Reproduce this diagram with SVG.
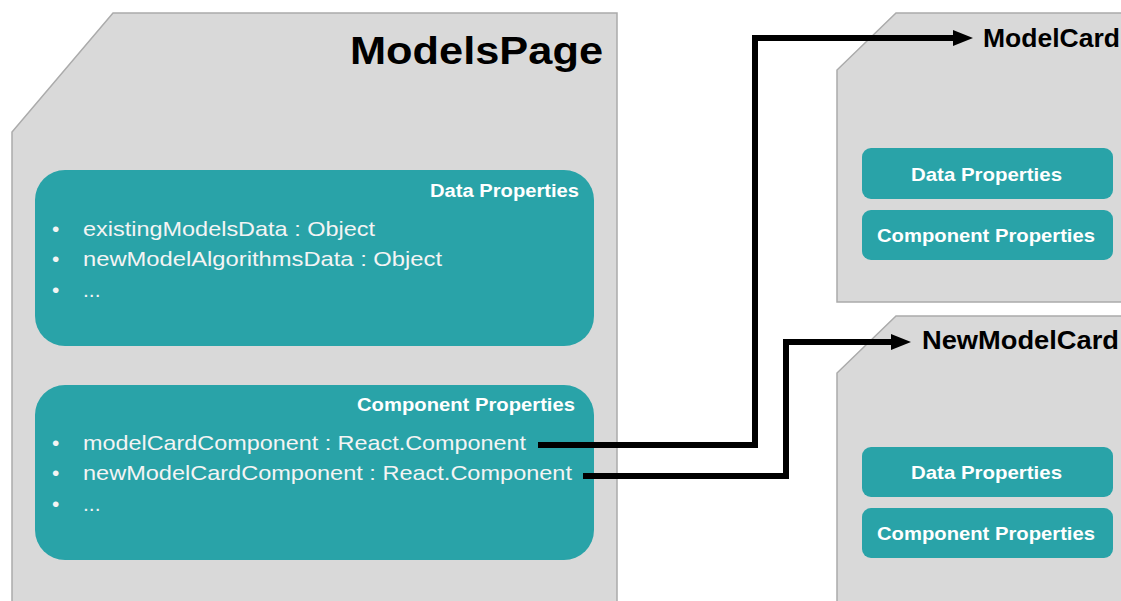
<svg xmlns="http://www.w3.org/2000/svg" width="1121" height="601" viewBox="0 0 1121 601">
<style>
.panel{fill:#d9d9d9;stroke:#ababab;stroke-width:1.5}
.box{fill:#29a3a8}
.title{font-family:"Liberation Sans",Arial,sans-serif;font-weight:bold;fill:#000}
.hdr{font-family:"Liberation Sans",Arial,sans-serif;font-weight:bold;fill:#fff;font-size:18px}
.btn{font-family:"Liberation Sans",Arial,sans-serif;font-weight:bold;fill:#fff;font-size:19px}
.item{font-family:"Liberation Sans",Arial,sans-serif;fill:#f4f4f4;font-size:21px}
.conn{fill:none;stroke:#000;stroke-width:6;stroke-linejoin:miter}
</style>
<defs>
<marker id="arrow" markerUnits="userSpaceOnUse" markerWidth="21" markerHeight="18" refX="0" refY="9" orient="auto">
<path d="M0,1 L20,9 L0,17 z" fill="#000"/>
</marker>
</defs>
<rect width="1121" height="601" fill="#fff"/>

<g id="modelsPage">
<polygon class="panel" points="113,13 617,13 617,612 12,612 12,132"/>
<text class="title" x="350" y="64" font-size="38" textLength="253" lengthAdjust="spacingAndGlyphs">ModelsPage</text>
</g>

<g id="dataProperties">
<rect class="box" x="35" y="170" width="559" height="176" rx="30"/>
<text class="hdr" x="430" y="197" textLength="149" lengthAdjust="spacingAndGlyphs">Data Properties</text>
<text class="item" x="52" y="236">•</text>
<text class="item" x="83" y="236" textLength="292" lengthAdjust="spacingAndGlyphs">existingModelsData : Object</text>
<text class="item" x="52" y="266">•</text>
<text class="item" x="83" y="266" textLength="359" lengthAdjust="spacingAndGlyphs">newModelAlgorithmsData : Object</text>
<text class="item" x="52" y="297">•</text>
<text class="item" x="83" y="297">...</text>
</g>

<g id="componentProperties">
<rect class="box" x="35" y="385" width="559" height="175" rx="30"/>
<text class="hdr" x="357" y="411" textLength="218" lengthAdjust="spacingAndGlyphs">Component Properties</text>
<text class="item" x="52" y="450">•</text>
<text class="item" x="83" y="450" textLength="443" lengthAdjust="spacingAndGlyphs">modelCardComponent : React.Component</text>
<text class="item" x="52" y="480">•</text>
<text class="item" x="83" y="480" textLength="489" lengthAdjust="spacingAndGlyphs">newModelCardComponent : React.Component</text>
<text class="item" x="52" y="511">•</text>
<text class="item" x="83" y="511">...</text>
</g>

<g id="modelCard">
<polygon class="panel" points="896,13 1130,13 1130,302 837,302 837,70"/>
<text class="title" x="983" y="47" font-size="26" textLength="137" lengthAdjust="spacingAndGlyphs">ModelCard</text>
<rect class="box" x="862" y="148" width="251" height="51" rx="9"/>
<text class="btn" x="911" y="181" textLength="151" lengthAdjust="spacingAndGlyphs">Data Properties</text>
<rect class="box" x="862" y="210" width="251" height="50" rx="9"/>
<text class="btn" x="877" y="242" textLength="218" lengthAdjust="spacingAndGlyphs">Component Properties</text>
</g>

<g id="newModelCard">
<polygon class="panel" points="896,316 1130,316 1130,612 837,612 837,373"/>
<text class="title" x="922" y="349" font-size="26" textLength="197" lengthAdjust="spacingAndGlyphs">NewModelCard</text>
<rect class="box" x="862" y="447" width="251" height="50" rx="9"/>
<text class="btn" x="911" y="479" textLength="151" lengthAdjust="spacingAndGlyphs">Data Properties</text>
<rect class="box" x="862" y="508" width="251" height="50" rx="9"/>
<text class="btn" x="877" y="540" textLength="218" lengthAdjust="spacingAndGlyphs">Component Properties</text>
</g>

<g id="connectors">
<path class="conn" d="M538,445 H755 V38 H953" marker-end="url(#arrow)"/>
<path class="conn" d="M583,476 H786 V342 H891" marker-end="url(#arrow)"/>
</g>
</svg>
